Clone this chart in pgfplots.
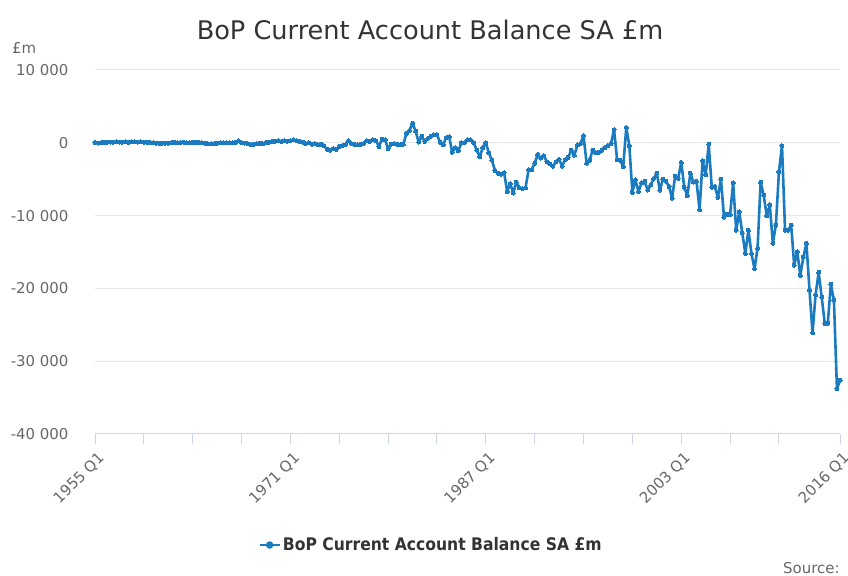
\documentclass[border=0pt]{standalone}
\usepackage{pgfplots}
\pgfplotsset{compat=1.18}
\usepackage{pgfplotstable}
\usepackage{fontspec}
\setmainfont{DejaVu Sans}
\newfontfamily\condfont{DejaVu Sans Condensed}
\definecolor{lineblue}{HTML}{1B7BC0}
\definecolor{gridgrey}{HTML}{E6E6E6}
\definecolor{axisblue}{HTML}{CCD6EB}
\definecolor{labelgrey}{HTML}{666666}
\definecolor{titlegrey}{HTML}{333333}

\pgfplotstableread{
x y
0 50
1 -30
2 20
3 60
4 80
5 100
6 90
7 120
8 100
9 80
10 110
11 60
12 150
13 120
14 100
15 130
16 90
17 60
18 40
19 20
20 -60
21 -80
22 -40
23 -70
24 -50
25 20
26 60
27 40
28 50
29 80
30 40
31 30
32 70
33 60
34 40
35 20
36 -80
37 -120
38 -150
39 -130
40 -60
41 -20
42 10
43 30
44 20
45 -10
46 60
47 250
48 30
49 -50
50 -100
51 -280
52 -200
53 -150
54 -80
55 -120
56 30
57 100
58 180
59 200
60 250
61 180
62 300
63 220
64 300
65 400
66 300
67 200
68 100
69 -100
70 0
71 -200
72 -100
73 -300
74 -200
75 -400
76 -900
77 -1000
78 -800
79 -900
80 -500
81 -400
82 -300
83 300
84 -100
85 -200
86 -300
87 -200
88 -100
89 300
90 200
91 400
92 300
93 -500
94 500
95 400
96 -800
97 -200
98 -100
99 -200
100 -300
101 -200
102 1300
103 1700
104 2700
105 1600
106 100
107 900
108 200
109 600
110 900
111 1100
112 1100
113 100
114 -300
115 700
116 800
117 -1300
118 -700
119 -1100
120 0
121 0
122 400
123 400
124 0
125 -1000
126 -1900
127 -700
128 0
129 -1400
130 -2400
131 -3800
132 -4200
133 -4300
134 -4100
135 -6700
136 -5600
137 -6900
138 -5400
139 -6200
140 -6300
141 -6200
142 -3700
143 -3700
144 -2800
145 -1600
146 -2100
147 -1800
148 -2600
149 -2900
150 -3200
151 -2600
152 -2300
153 -3200
154 -2300
155 -2000
156 -1000
157 -1700
158 -300
159 -100
160 1000
161 -2800
162 -2400
163 -1000
164 -1400
165 -1300
166 -1000
167 -700
168 -400
169 -100
170 1800
171 -2300
172 -2400
173 -3300
174 2100
175 -400
176 -6800
177 -5100
178 -6700
179 -5500
180 -5300
181 -6500
182 -5800
183 -4900
184 -4200
185 -6500
186 -5000
187 -5300
188 -6000
189 -7600
190 -4600
191 -4900
192 -2700
193 -6100
194 -7300
195 -4200
196 -5400
197 -5300
198 -9200
199 -2500
200 -4400
201 -200
202 -6100
203 -6000
204 -7500
205 -5000
206 -10200
207 -9800
208 -9900
209 -5500
210 -12000
211 -9500
212 -12400
213 -15200
214 -12000
215 -15200
216 -17300
217 -14500
218 -5400
219 -7200
220 -10000
221 -8500
222 -13800
223 -11300
224 -4000
225 -400
226 -12000
227 -12000
228 -11300
229 -16800
230 -15000
231 -18200
232 -15700
233 -13800
234 -20200
235 -26100
236 -20900
237 -17800
238 -21200
239 -24800
240 -24800
241 -19400
242 -21600
243 -33800
244 -32600
}\bopdata

\begin{document}
\begin{tikzpicture}
\useasboundingbox (0bp,0bp) rectangle (848bp,576bp);
\begin{axis}[
  at={(95bp,142bp)}, anchor=south west,
  scale only axis, width=745bp, height=364bp,
  xmin=0, xmax=244, ymin=-40000, ymax=10000,
  axis x line*=bottom, axis y line*=left,
  separate axis lines,
  x axis line style={axisblue, line width=1bp, -},
  y axis line style={draw=none},
  xtick={0,64,128,192,244},
  xticklabels={1955 Q1,1971 Q1,1987 Q1,2003 Q1,2016 Q1},
  minor xtick={16,32,48,80,96,112,144,160,176,208,224},
  tick align=outside,
  xtick style={axisblue, line width=1bp},
  major tick length=10bp,
  minor tick length=10bp,
  scaled y ticks=false,
  ytick={-40000,-30000,-20000,-10000,0,10000},
  yticklabels={-40 000,-30 000,-20 000,-10 000,0,10 000},
  ytick style={draw=none},
  ymajorgrids,
  grid style={gridgrey, line width=1bp},
  yticklabel style={font=\fontsize{15}{18}\selectfont, text=labelgrey, anchor=east, xshift=-13bp},
  xticklabel style={font=\fontsize{15}{18}\selectfont, text=labelgrey, rotate=45, anchor=north east, xshift=0bp, yshift=-3bp},
  legend style={at={(0.451,-0.305)}, anchor=center, draw=none, fill=none,
    font=\condfont\bfseries\fontsize{17.4}{20}\selectfont, text=titlegrey},
  legend image code/.code={%
    \draw[lineblue, line width=2.6bp] (-5bp,0bp) -- (15bp,0bp);
    \fill[lineblue] (5bp,0bp) circle (2.4bp);},
  clip=false,
]
\addplot[lineblue, line width=2.6bp, line join=round, mark=*, mark size=2bp,
  mark options={fill=lineblue, draw=lineblue, line width=0bp}]
  table[x=x, y=y] {\bopdata};
\addlegendentry{BoP Current Account Balance SA £m}
\end{axis}
\node[font=\fontsize{25.7}{30}\selectfont, text=titlegrey] at (430bp,546bp) {BoP Current Account Balance SA £m};
\node[anchor=west, font=\fontsize{15}{18}\selectfont, text=labelgrey, inner sep=0pt] at (12bp,528bp) {£m};
\node[anchor=west, font=\fontsize{15}{18}\selectfont, text=labelgrey, inner sep=0pt] at (783bp,8bp) {Source:};
\end{tikzpicture}
\end{document}
